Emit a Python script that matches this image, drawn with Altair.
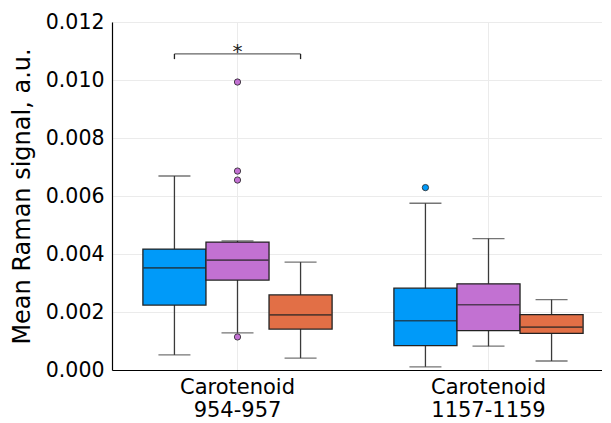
import altair as alt
import pandas as pd

categories = ["Carotenoid 954-957", "Carotenoid 1157-1159"]
series = ["Series 1", "Series 2", "Series 3"]
colors = ["#009AF9", "#C271D2", "#E26F46"]

# box statistics, per category, series in order
box_cat = [categories[0]] * 3 + [categories[1]] * 3
box_series = series * 2
lower = [0.00052, 0.00128, 0.00041, 0.00011, 0.00082, 0.00031]
q1 = [0.00224, 0.00310, 0.00141, 0.00084, 0.00136, 0.00126]
median = [0.00352, 0.00379, 0.00190, 0.00170, 0.00225, 0.00148]
q3 = [0.00417, 0.00441, 0.00259, 0.00282, 0.00297, 0.00191]
upper = [0.00669, 0.00445, 0.00372, 0.00575, 0.00453, 0.00243]

out_cat = [categories[0]] * 4 + [categories[1]]
out_series = ["Series 2"] * 4 + ["Series 1"]
out_value = [0.00993, 0.00686, 0.00655, 0.00114, 0.00629]

# significance bracket
br_cat = [categories[0], categories[0]]
br_series = ["Series 1", "Series 3"]
br_top = 0.01090
br_bottom = 0.01072
star_label = "*"

boxes = pd.DataFrame({"cat": box_cat, "series": box_series, "lower": lower,
                      "q1": q1, "median": median, "q3": q3, "upper": upper})
outs = pd.DataFrame({"cat": out_cat, "series": out_series, "value": out_value})
br = pd.DataFrame({"cat": br_cat, "series": br_series,
                   "top": [br_top] * 2, "bottom": [br_bottom] * 2})
star = pd.DataFrame({"cat": [categories[0]], "series": ["Series 2"],
                     "y": [br_top], "label": [star_label]})

FONT = "DejaVu Sans"
ycol = "#222222"
wcol = "#3a3a3a"

x_enc = alt.X("cat:N", sort=categories,
              scale=alt.Scale(paddingInner=0, paddingOuter=0, range=[0, 502]),
              axis=alt.Axis(title=None, labelAngle=0, labelFontSize=21,
                            labelFont=FONT, labelColor="black",
                            labelExpr="split(datum.label, ' ')",
                            labelLineHeight=23, labelPadding=6,
                            ticks=False, grid=True, bandPosition=0.5,
                            gridColor="#ebebeb", gridWidth=1,
                            domainColor="black", domainWidth=1.2))
xo_enc = alt.XOffset("series:N", sort=series,
                     scale=alt.Scale(paddingInner=0, paddingOuter=0.49))
y_scale = alt.Scale(domain=[0, 0.012], nice=False, zero=True)
y_axis = alt.Axis(title="Mean Raman signal, a.u.", values=[0, 0.002, 0.004, 0.006, 0.008, 0.010, 0.012],
                  format=".3f", labelFontSize=20.5, labelFont=FONT, labelColor="black",
                  labelPadding=8, ticks=False, grid=True, gridColor="#ebebeb", gridWidth=1,
                  domainColor="black", domainWidth=1.2,
                  titleFont=FONT, titleFontSize=24, titleFontWeight="normal", titleColor="black",
                  titleX=-90, titleY=174, titleAngle=270, titleAlign="center",
                  titleBaseline="middle")

base = alt.Chart(boxes).encode(x=x_enc, xOffset=xo_enc)

whisk = base.mark_rule(color=wcol, strokeWidth=1.3).encode(
    y=alt.Y("lower:Q", scale=y_scale, axis=y_axis), y2="upper:Q")
cap_lo = base.mark_tick(color=wcol, size=32, thickness=1.3).encode(
    y=alt.Y("lower:Q", scale=y_scale))
cap_hi = base.mark_tick(color=wcol, size=32, thickness=1.3).encode(
    y=alt.Y("upper:Q", scale=y_scale))
box = base.mark_bar(stroke=ycol, strokeWidth=1.3, opacity=1).encode(
    y=alt.Y("q1:Q", scale=y_scale), y2="q3:Q",
    color=alt.Color("series:N", sort=series,
                    scale=alt.Scale(domain=series, range=colors), legend=None))
med = base.mark_tick(color=ycol, size=62, thickness=1.6).encode(
    y=alt.Y("median:Q", scale=y_scale))

pts = alt.Chart(outs).mark_point(filled=True, size=40, stroke=ycol,
                                 strokeWidth=0.8, opacity=1).encode(
    x=x_enc, xOffset=xo_enc, y=alt.Y("value:Q", scale=y_scale),
    fill=alt.Fill("series:N", sort=series,
                  scale=alt.Scale(domain=series, range=colors), legend=None))

br_v = alt.Chart(br).mark_rule(color=ycol, strokeWidth=1.3).encode(
    x=x_enc, xOffset=xo_enc, y=alt.Y("bottom:Q", scale=y_scale), y2="top:Q")
br_h = alt.Chart(star).mark_tick(color=ycol, size=126, thickness=1.3).encode(
    x=x_enc, xOffset=xo_enc, y=alt.Y("y:Q", scale=y_scale))
star_t = alt.Chart(star).mark_text(font=FONT, fontSize=20, color=ycol,
                                   baseline="alphabetic", dy=4).encode(
    x=x_enc, xOffset=xo_enc, y=alt.Y("y:Q", scale=y_scale), text="label:N")

chart = alt.layer(whisk, cap_lo, cap_hi, box, med, pts, br_v, br_h, star_t).properties(
    width=498, height=348,
    autosize=alt.AutoSizeParams(type="none"),
    padding={"left": 104, "top": 14, "right": -8, "bottom": 55},
).configure_view(stroke=None).configure(background="white")

chart.save("out.html", embed_options={"renderer": "svg", "actions": False})
